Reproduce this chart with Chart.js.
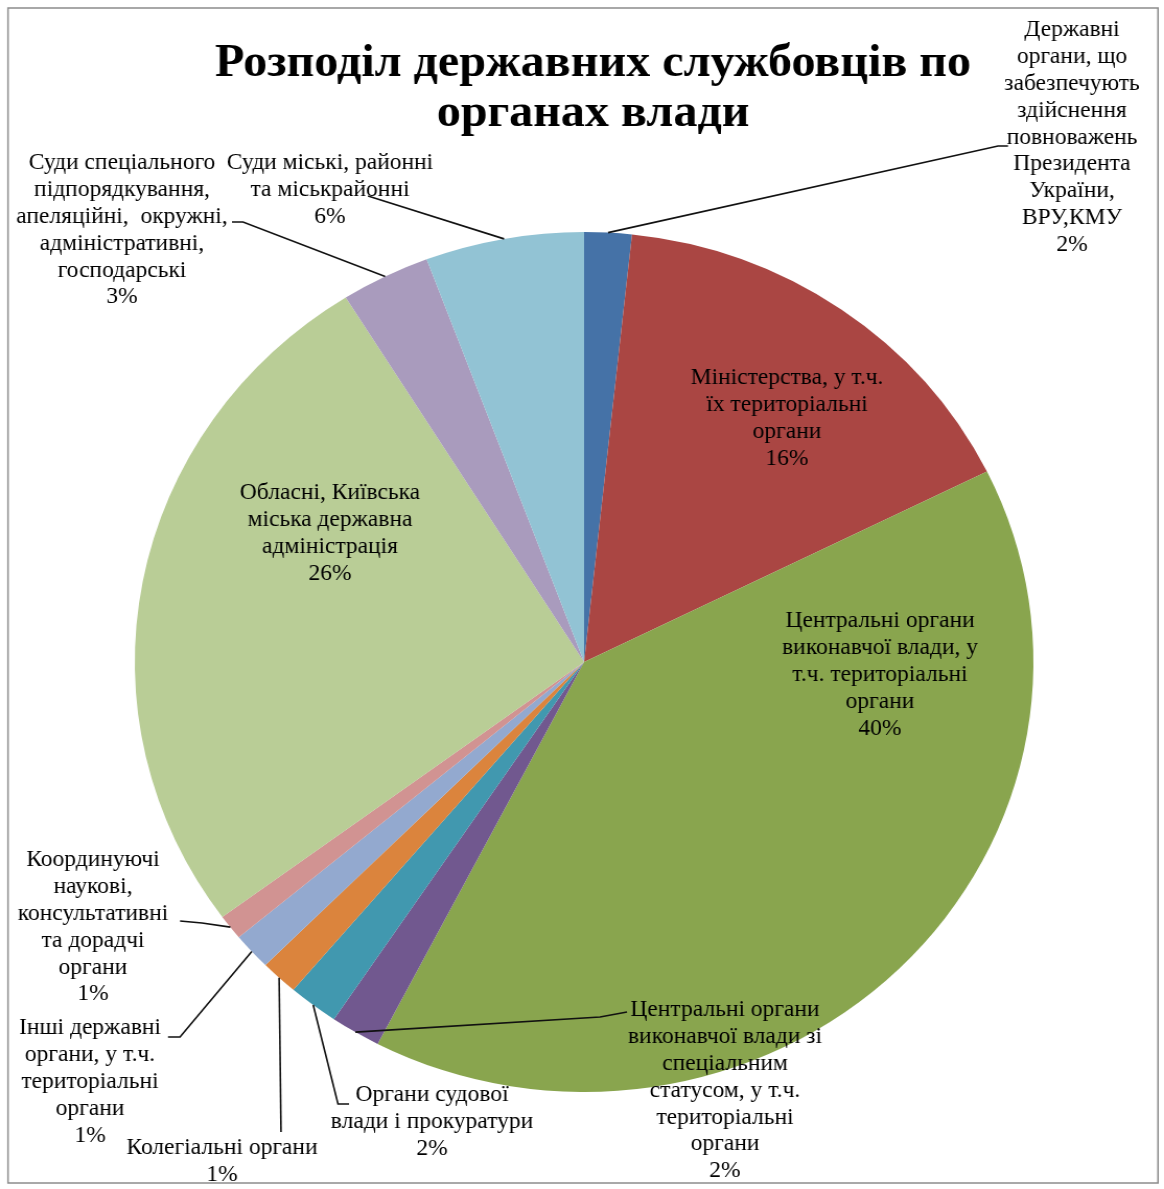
<!DOCTYPE html>
<html>
<head>
<meta charset="utf-8">
<script src="https://cdn.jsdelivr.net/npm/chart.js@4"></script>
<style>
  html, body { margin: 0; padding: 0; background: #fff; }
</style>
</head>
<body>
<canvas id="chart" width="1114" height="1189" style="display:block;width:1164px;height:1189px"></canvas>
<script>
const titleLines = ['Розподіл державних службовців по', 'органах влади'];

const categories = [
  'Державні органи, що забезпечують здійснення повноважень Президента України, ВРУ,КМУ',
  'Міністерства, у т.ч. їх територіальні органи',
  'Центральні органи виконавчої влади, у т.ч. територіальні органи',
  'Центральні органи виконавчої влади зі спеціальним статусом, у т.ч. територіальні органи',
  'Органи судової влади і прокуратури',
  'Колегіальні органи',
  'Інші державні органи, у т.ч. територіальні органи',
  'Координуючі наукові, консультативні та дорадчі органи',
  'Обласні, Київська міська державна адміністрація',
  'Суди спеціального підпорядкування, апеляційні, окружні, адміністративні, господарські',
  'Суди міські, районні та міськрайонні'
];

// частки (%), зчитані з діаграми
const values = [1.7, 16.0, 39.9, 1.8, 1.8, 1.35, 1.4, 0.95, 26.2, 3.2, 5.7];

const colors = [
  '#4572A7', '#AA4643', '#89A54E', '#71588F', '#4198AF', '#DB843D',
  '#93A9CF', '#D19392', '#B9CD96', '#A99BBD', '#92C3D4'
];

// підписи, розбиті на рядки як на картинці
const labelLines = [
  ['Державні', 'органи, що', 'забезпечують', 'здійснення', 'повноважень', 'Президента', 'України,', 'ВРУ,КМУ'],
  ['Міністерства, у т.ч.', 'їх територіальні', 'органи'],
  ['Центральні органи', 'виконавчої влади, у', 'т.ч. територіальні', 'органи'],
  ['Центральні органи', 'виконавчої влади зі', 'спеціальним', 'статусом, у т.ч.', 'територіальні', 'органи'],
  ['Органи судової', 'влади і прокуратури'],
  ['Колегіальні органи'],
  ['Інші державні', 'органи, у т.ч.', 'територіальні', 'органи'],
  ['Координуючі', 'наукові,', 'консультативні', 'та дорадчі', 'органи'],
  ['Обласні, Київська', 'міська державна', 'адміністрація'],
  ['Суди спеціального', 'підпорядкування,', 'апеляційні,  окружні,', 'адміністративні,', 'господарські'],
  ['Суди міські, районні', 'та міськрайонні']
];

// розміщення підписів (центр, перший рядок) і ламані виносок
const labelPos = [
  [1072, 30], [787, 378], [880, 621], [725, 1010], [432, 1095], [222, 1148],
  [90, 1028], [93, 860], [330, 493], [122, 163], [330, 163]
];
const leaders = [
  [[998, 146], [1008, 146]],
  null,
  null,
  [[600, 1017], [627, 1012]],
  [[338, 1104], [349, 1104]],
  [[281, 1132]],
  [[180, 1037], [168, 1037]],
  [[202, 923], [180, 921]],
  null,
  [[243, 222], [232, 222]],
  [[368, 196]]
];

const SX = 1164 / 1114;   // картинка трохи розтягнута по горизонталі
const px = x => x / SX;
const LINE_H = 26.9;

const labelPlugin = {
  id: 'pieLabels',
  beforeDraw(chart) {
    const ctx = chart.ctx;
    ctx.save();
    ctx.fillStyle = '#fff';
    ctx.fillRect(0, 0, chart.width, chart.height);
    ctx.strokeStyle = '#8c8c8c';
    ctx.lineWidth = 1.5;
    ctx.strokeRect(px(8), 8, px(1150), 1175);
    ctx.restore();
  },
  afterDatasetsDraw(chart) {
    const ctx = chart.ctx;
    const arcs = chart.getDatasetMeta(0).data;
    const total = values.reduce((a, b) => a + b, 0);
    ctx.save();

    // виноски
    ctx.strokeStyle = '#111';
    ctx.lineWidth = 1.6;
    arcs.forEach((arc, i) => {
      const pts = leaders[i];
      if (!pts) return;
      const p = arc.getProps(['x', 'y', 'startAngle', 'endAngle', 'outerRadius'], true);
      const mid = (p.startAngle + p.endAngle) / 2;
      ctx.beginPath();
      ctx.moveTo(p.x + Math.cos(mid) * p.outerRadius, p.y + Math.sin(mid) * p.outerRadius);
      pts.forEach(([x, y]) => ctx.lineTo(px(x), y));
      ctx.stroke();
    });

    // підписи
    ctx.font = '22.5px "Liberation Serif"';
    ctx.fillStyle = '#000';
    ctx.textAlign = 'center';
    ctx.textBaseline = 'middle';
    arcs.forEach((arc, i) => {
      const lines = labelLines[i].concat(Math.round(values[i] / total * 100) + '%');
      const [x, y] = labelPos[i];
      lines.forEach((t, k) => ctx.fillText(t, px(x), y + k * LINE_H));
    });

    // заголовок
    ctx.font = 'bold 46px "Liberation Serif"';
    titleLines.forEach((t, k) => ctx.fillText(t, px(593), 64 + k * 50));
    ctx.restore();
  }
};

new Chart(document.getElementById('chart').getContext('2d'), {
  type: 'pie',
  data: {
    labels: categories,
    datasets: [{
      data: values,
      backgroundColor: colors,
      borderWidth: 0
    }]
  },
  options: {
    responsive: false,
    animation: false,
    layout: { padding: { left: 129, right: 125, top: 232, bottom: 97 } },
    plugins: {
      legend: { display: false },
      tooltip: { enabled: false }
    }
  },
  plugins: [labelPlugin]
});
</script>
</body>
</html>
